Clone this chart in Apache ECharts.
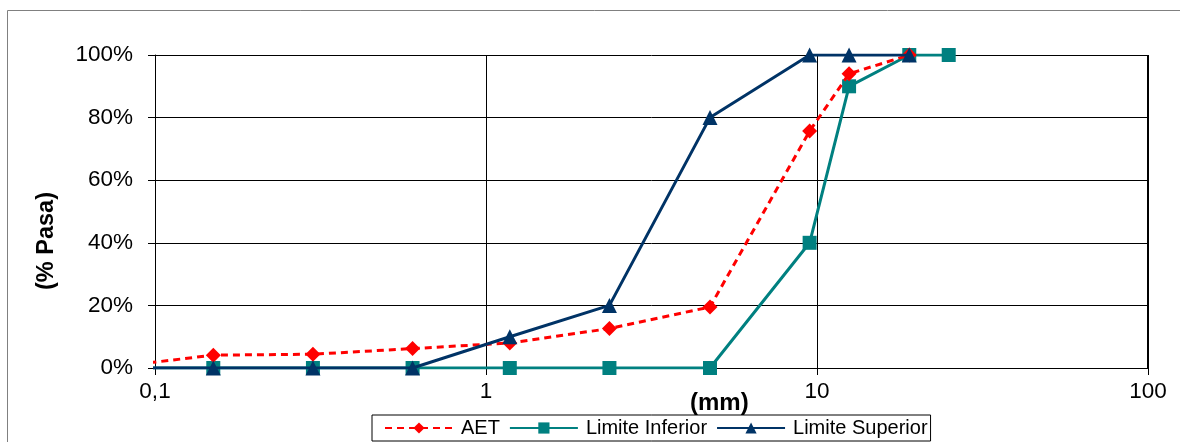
<!DOCTYPE html>
<html>
<head>
<meta charset="utf-8">
<script src="https://cdn.jsdelivr.net/npm/echarts@6/dist/echarts.min.js"></script>
<style>
  html, body { margin: 0; padding: 0; background: #fff; }
  #chart { width: 1180px; height: 442px; }
</style>
</head>
<body>
<div id="chart"></div>
<script>
// Sieve openings (mm) and % passing for each gradation curve
const sievesAET = [0.075, 0.15, 0.3, 0.6, 1.18, 2.36, 4.75, 9.5, 12.5, 19];
const valuesAET = [0.3, 4.1, 4.4, 6.2, 8.0, 12.6, 19.5, 75.7, 94.0, 100];

const sievesInf = [0.075, 0.15, 0.3, 0.6, 1.18, 2.36, 4.75, 9.5, 12.5, 19, 25];
const valuesInf = [0, 0, 0, 0, 0, 0, 0, 40, 90, 100, 100];

const sievesSup = [0.075, 0.15, 0.3, 0.6, 1.18, 2.36, 4.75, 9.5, 12.5, 19];
const valuesSup = [0, 0, 0, 0, 10, 20, 80, 100, 100, 100];

const seriesNames = ['AET', 'Limite Inferior', 'Limite Superior'];
const xTitle = '(mm)';
const yTitle = '(% Pasa)';

const pairs = (xs, ys) => xs.map((x, i) => [x, ys[i]]);
const font = 'Arial, "Liberation Sans", sans-serif';

const chart = echarts.init(document.getElementById('chart'));
chart.setOption({
  animation: false,
  backgroundColor: '#fff',
  grid: { left: 155, right: 32, top: 55, bottom: 74, show: false },
  xAxis: {
    type: 'log', logBase: 10, min: 0.1, max: 100,
    axisLine: { show: true, onZero: false, lineStyle: { color: '#000', width: 1 } },
    axisTick: { show: true, length: 7, lineStyle: { color: '#000' } },
    minorTick: { show: false },
    axisLabel: {
      color: '#000', fontSize: 22.5, fontFamily: font, margin: 12,
      formatter: v => String(v).replace('.', ',')
    },
    splitLine: { show: true, lineStyle: { color: '#000', width: 1 } }
  },
  yAxis: {
    type: 'value', min: 0, max: 100, interval: 20,
    axisLine: { show: true, lineStyle: { color: '#000', width: 1 } },
    axisTick: { show: true, length: 7, lineStyle: { color: '#000' } },
    axisLabel: { color: '#000', fontSize: 22.5, fontFamily: font, margin: 22, formatter: '{value}%' },
    splitLine: { show: true, lineStyle: { color: '#000', width: 1 } }
  },
  legend: {
    left: 372, top: 415,
    padding: [3, 3, 3, 12],
    itemGap: 9,
    itemWidth: 68, itemHeight: 14,
    borderColor: '#000', borderWidth: 1,
    textStyle: { color: '#000', fontSize: 20, fontFamily: font, padding: [0, 0, 0, 3] },
    data: seriesNames
  },
  graphic: [
    {
      type: 'rect', silent: true, z: -1,
      shape: { x: 7.5, y: 10.5, width: 1200, height: 460 },
      style: { fill: 'none', stroke: '#808080', lineWidth: 1 }
    },
    {
      type: 'rect', silent: true,
      shape: { x: 1147.5, y: 55, width: 0, height: 313 },
      style: { fill: 'none', stroke: '#000', lineWidth: 1 }
    },
    {
      type: 'text', x: 690, y: 403,
      style: { text: xTitle, fill: '#000', font: 'bold 24px Arial, "Liberation Sans", sans-serif', textAlign: 'left', textVerticalAlign: 'middle' }
    },
    {
      type: 'text', x: 47, y: 241, rotation: Math.PI / 2,
      style: { text: yTitle, fill: '#000', font: 'bold 23.5px Arial, "Liberation Sans", sans-serif', textAlign: 'center', textVerticalAlign: 'middle' }
    }
  ],
  series: [
    {
      name: seriesNames[0], type: 'line', data: pairs(sievesAET, valuesAET),
      color: '#ff0000', z: 3,
      symbol: 'diamond', symbolSize: 15,
      lineStyle: { color: '#ff0000', width: 3, type: [7, 5] },
      itemStyle: { color: '#ff0000' }
    },
    {
      name: seriesNames[1], type: 'line', data: pairs(sievesInf, valuesInf),
      color: '#008080', z: 2,
      symbol: 'rect', symbolSize: 14,
      lineStyle: { color: '#008080', width: 3 },
      itemStyle: { color: '#008080' }
    },
    {
      name: seriesNames[2], type: 'line', data: pairs(sievesSup, valuesSup),
      color: '#003366', z: 4,
      symbol: 'triangle', symbolSize: 15,
      lineStyle: { color: '#003366', width: 3 },
      itemStyle: { color: '#003366' }
    }
  ]
});
</script>
</body>
</html>
